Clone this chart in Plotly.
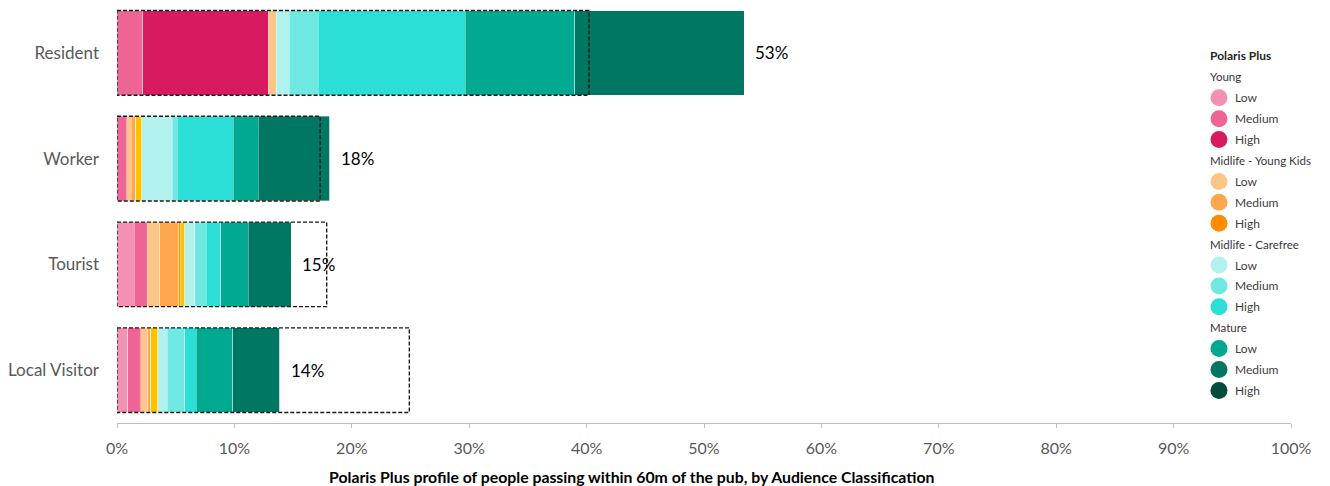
import plotly.graph_objects as go

# Audience classifications (top to bottom)
categories = ["Resident", "Worker", "Tourist", "Local Visitor"]

# Polaris Plus segment shares, % of people passing within 60m
young_low = [0.00, 0.00, 1.45, 0.90]
young_medium = [2.20, 0.71, 1.14, 0.99]
young_high = [10.67, 0.10, 0.00, 0.14]
myk_low = [0.68, 0.40, 1.05, 0.57]
myk_medium = [0.00, 0.37, 1.62, 0.26]
myk_high = [0.00, 0.00, 0.14, 0.00]
unclassified = [0.00, 0.51, 0.37, 0.60]
carefree_low = [1.11, 2.61, 0.85, 0.82]
carefree_medium = [2.47, 0.43, 1.00, 1.51]
carefree_high = [12.52, 4.77, 1.22, 0.94]
mature_low = [9.34, 2.13, 2.33, 3.12]
mature_medium = [14.42, 6.10, 3.66, 4.03]
mature_high = [0.00, 0.00, 0.00, 0.00]

# Benchmark share shown as dashed outline
benchmark = [40.2, 17.3, 17.86, 24.9]

x_ticks = list(range(0, 101, 10))
x_tick_labels = [f"{v}%" for v in x_ticks]

segments = [
    ("Young", "Low", young_low, "#F391B5"),
    ("Young", "Medium", young_medium, "#EE6494"),
    ("Young", "High", young_high, "#D81B60"),
    ("Midlife - Young Kids", "Low", myk_low, "#FFC586"),
    ("Midlife - Young Kids", "Medium", myk_medium, "#FFA74F"),
    ("Midlife - Young Kids", "High", myk_high, "#FF8C00"),
    (None, "Unclassified", unclassified, "#FFC000"),
    ("Midlife - Carefree", "Low", carefree_low, "#B2F2EE"),
    ("Midlife - Carefree", "Medium", carefree_medium, "#6FE8E1"),
    ("Midlife - Carefree", "High", carefree_high, "#2CDFD6"),
    ("Mature", "Low", mature_low, "#00A98F"),
    ("Mature", "Medium", mature_medium, "#007762"),
    ("Mature", "High", mature_high, "#004D3E"),
]

FONT = "Lato"
W, H = 1330, 486
M_L, M_R, M_T, M_B = 117, 39, 0, 63
PLOT_W = W - M_L - M_R
PLOT_H = H - M_T - M_B

fig = go.Figure()

for group, level, values, color in segments:
    fig.add_trace(go.Bar(
        y=categories, x=values, orientation="h",
        name=f"{group} {level}" if group else level,
        marker=dict(color=color, line=dict(color="rgba(255,255,255,0.45)", width=0.8)),
        width=0.8, showlegend=False,
    ))

# Dashed benchmark outlines and total labels
totals = [sum(s[2][i] for s in segments) for i in range(len(categories))]
for i, cat in enumerate(categories):
    fig.add_shape(type="rect", xref="x", yref="y",
                  x0=0, x1=benchmark[i], y0=i - 0.4, y1=i + 0.4,
                  line=dict(color="#1A1A1A", width=1.4, dash="4px,2px"),
                  fillcolor="rgba(0,0,0,0)", layer="above")
    fig.add_annotation(x=totals[i], y=cat, text=f"{round(totals[i])}%",
                       showarrow=False, xanchor="left", xshift=9,
                       font=dict(size=17, color="#000000", family=FONT))


def px_to_paper_x(px):
    return (px - M_L) / PLOT_W


def px_to_paper_y(py):
    return 1 - (py - M_T) / PLOT_H


# Legend panel: title, life-stage headings and round swatches
row_y = 56.0
row_step = 20.9
fig.add_annotation(xref="paper", yref="paper", x=px_to_paper_x(1208), y=px_to_paper_y(row_y),
                   text="<b>Polaris Plus</b>", showarrow=False, xanchor="left", yanchor="middle",
                   font=dict(size=12, color="#262626", family=FONT))
current_group = None
for group, level, values, color in segments:
    if group is None:
        continue
    if group != current_group:
        current_group = group
        row_y += row_step
        fig.add_annotation(xref="paper", yref="paper", x=px_to_paper_x(1208), y=px_to_paper_y(row_y),
                           text=group, showarrow=False, xanchor="left", yanchor="middle",
                           font=dict(size=11.5, color="#3A3340", family=FONT))
    row_y += row_step
    yc = px_to_paper_y(row_y)
    fig.add_shape(type="circle", xref="paper", yref="paper",
                  xsizemode="pixel", ysizemode="pixel",
                  xanchor=px_to_paper_x(1219), yanchor=yc,
                  x0=-8.5, x1=8.5, y0=-8.5, y1=8.5,
                  fillcolor=color, line=dict(width=0), layer="above")
    fig.add_annotation(xref="paper", yref="paper", x=px_to_paper_x(1233), y=yc,
                       text=level, showarrow=False, xanchor="left", yanchor="middle",
                       font=dict(size=12, color="#404040", family=FONT))

# Chart caption below the axis
fig.add_annotation(xref="paper", yref="paper", x=px_to_paper_x(631), y=px_to_paper_y(476),
                   text="<b>Polaris Plus profile of people passing within 60m of the pub, by Audience Classification</b>",
                   showarrow=False, xanchor="center", yanchor="middle",
                   font=dict(size=15.8, color="#000000", family=FONT))

fig.update_layout(
    barmode="stack",
    width=W, height=H,
    margin=dict(l=M_L, r=M_R, t=M_T, b=M_B),
    paper_bgcolor="white", plot_bgcolor="white",
    font=dict(family=FONT, color="#595959"),
    showlegend=False,
    bargap=0.2,
)

fig.update_xaxes(
    range=[0, 100], tickmode="array", tickvals=x_ticks, ticktext=x_tick_labels,
    showgrid=False, zeroline=False,
    showline=True, linecolor="#BFBFBF", linewidth=1,
    ticks="outside", ticklen=4, tickcolor="#BFBFBF", ticklabelstandoff=7,
    tickfont=dict(size=16, color="#595959"),
)
fig.update_yaxes(
    categoryorder="array", categoryarray=categories, autorange="reversed",
    showgrid=False, zeroline=False, showline=False,
    ticks="", ticklabelstandoff=17,
    tickfont=dict(size=17, color="#595959"),
)

fig.write_html("out.html")
